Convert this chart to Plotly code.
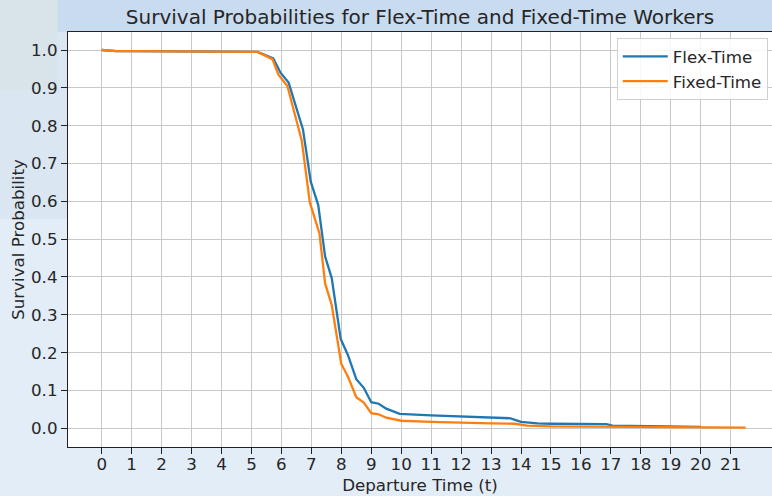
import plotly.graph_objects as go

# ---- data ----
flex_t = [0, 0.5, 1, 5, 5.2, 5.73, 5.97, 6.24, 6.72, 6.98, 7.23, 7.46, 7.68, 7.98, 8.22, 8.5, 8.75,
          9.0, 9.25, 9.5, 9.95, 11, 12, 13, 13.65, 14, 14.55, 15, 16, 16.85, 17.05, 18, 19, 20]
flex_p = [1.0, 0.997, 0.997, 0.996, 0.995, 0.978, 0.94, 0.914, 0.79, 0.652, 0.59, 0.454, 0.397,
          0.236, 0.194, 0.13, 0.107, 0.069, 0.065, 0.052, 0.038, 0.034, 0.031, 0.029, 0.0265,
          0.017, 0.013, 0.012, 0.012, 0.011, 0.007, 0.006, 0.005, 0.004]

fixed_t = [0, 0.5, 1, 5, 5.2, 5.7, 5.9, 6.2, 6.68, 6.95, 7.27, 7.46, 7.68, 8.0, 8.22, 8.5, 8.75,
           9.0, 9.25, 9.5, 10, 11, 12, 13, 13.8, 14.2, 15, 17, 19, 21.5]
fixed_p = [1.0, 0.997, 0.997, 0.996, 0.995, 0.976, 0.935, 0.905, 0.76, 0.597, 0.515, 0.383, 0.326,
           0.17, 0.137, 0.082, 0.068, 0.04, 0.037, 0.028, 0.02, 0.017, 0.016, 0.013, 0.012,
           0.007, 0.005, 0.004, 0.003, 0.002]

x_ticks = list(range(0, 22))
y_ticks = [round(0.1 * i, 1) for i in range(11)]

FONT = "DejaVu Sans"
TXT = "#262626"
FS = 16.7

fig = go.Figure()
fig.add_trace(go.Scatter(x=flex_t, y=flex_p, mode="lines", name="Flex-Time",
                         line=dict(color="#1f77b4", width=2.3)))
fig.add_trace(go.Scatter(x=fixed_t, y=fixed_p, mode="lines", name="Fixed-Time",
                         line=dict(color="#ff7f0e", width=2.3)))

# background decoration (outside the plot area)
shapes = [
    dict(type="rect", xref="paper", yref="paper", x0=-0.2, x1=1.05, y0=1.0, y1=1.2,
         fillcolor="#c9dbef", line=dict(width=0), layer="below"),
    dict(type="rect", xref="paper", yref="paper", x0=-0.2, x1=0.0, y0=0.55, y1=1.0,
         fillcolor="#dae6f2", line=dict(width=0), layer="below"),
    dict(type="rect", xref="paper", yref="paper", x0=-0.2, x1=-0.015, y0=0.86, y1=1.2,
         fillcolor="#d9e3ea", line=dict(width=0), layer="below"),
]

fig.update_layout(
    width=772, height=496,
    margin=dict(l=68, r=0, t=32, b=49),
    paper_bgcolor="#e3edf8",
    plot_bgcolor="white",
    font=dict(family=FONT, size=FS, color=TXT),
    title=dict(text="Survival Probabilities for Flex-Time and Fixed-Time Workers",
               x=0.5, xref="paper", xanchor="center",
               y=1 - 17 / 496, yref="container", yanchor="middle",
               font=dict(family=FONT, size=20, color=TXT)),
    showlegend=True,
    legend=dict(x=0.994, y=0.9855, xanchor="right", yanchor="top",
                itemwidth=45,
                bgcolor="rgba(255,255,255,0.85)", bordercolor="#d0d0d0", borderwidth=1,
                font=dict(family=FONT, size=FS, color=TXT)),
    shapes=shapes,
)

fig.update_xaxes(
    range=[-1.125, 22.38], tickmode="array", tickvals=x_ticks,
    ticktext=[str(v) for v in x_ticks],
    tickfont=dict(family=FONT, size=FS, color=TXT),
    ticklabelstandoff=-4,
    showgrid=True, gridcolor="#c8c8c8", gridwidth=1.2,
    showline=True, linecolor="#222222", linewidth=1.2, mirror=True,
    ticks="outside", ticklen=6, tickcolor="#222222", tickwidth=1.2,
    zeroline=False,
    title=dict(text="Departure Time (t)", font=dict(family=FONT, size=FS, color=TXT), standoff=6),
)
fig.update_yaxes(
    range=[-0.0494, 1.0476], tickmode="array", tickvals=y_ticks,
    ticktext=[f"{v:.1f}" for v in y_ticks],
    tickfont=dict(family=FONT, size=FS, color=TXT),
    showgrid=True, gridcolor="#c8c8c8", gridwidth=1.2,
    showline=True, linecolor="#222222", linewidth=1.2, mirror=False,
    ticks="outside", ticklen=6, tickcolor="#222222", tickwidth=1.2,
    zeroline=False,
    title=dict(text="Survival Probability", font=dict(family=FONT, size=FS, color=TXT), standoff=2),
)

fig.write_html("out.html")
